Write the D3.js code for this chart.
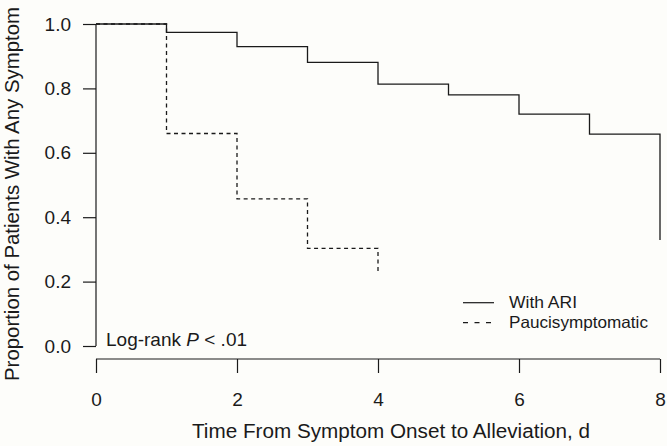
<!DOCTYPE html>
<html><head><meta charset="utf-8">
<script src="https://cdn.jsdelivr.net/npm/d3@7"></script>
<style>
html,body{margin:0;padding:0;background:#fdfdfa;}
text{font-family:"Liberation Sans",Arial,Helvetica,sans-serif;fill:#1a1a1a;}
</style></head>
<body><svg id="c" width="667" height="446"></svg>
<script>
const ariTimes = [0,1,2,3,4,5,6,7,8];
const ariSurv  = [1.0,0.974,0.930,0.881,0.813,0.780,0.720,0.658,0.329];
const paucTimes = [0,1,2,3,4];
const paucSurv  = [1.0,0.660,0.457,0.303,0.226];
const xTicks = [0,2,4,6,8];
const yTicks = [0,0.2,0.4,0.6,0.8,1.0];
const seriesNames = ["With ARI","Paucisymptomatic"];

const svg = d3.select("#c");
svg.append("rect").attr("width",667).attr("height",446).attr("fill","#fdfdfa");
const x = d3.scaleLinear().domain([0,8]).range([96,660]);
const y = d3.scaleLinear().domain([0,1]).range([346,24]);
const ink = "#1a1a1a";

// x axis
const gx = svg.append("g").attr("transform","translate(0,359)")
  .call(d3.axisBottom(x).tickValues(xTicks).tickFormat(d3.format("d")).tickSize(14).tickPadding(20).tickSizeOuter(0));
// y axis
const gy = svg.append("g").attr("transform","translate(96,0)")
  .call(d3.axisLeft(y).tickValues(yTicks).tickFormat(d3.format(".1f")).tickSize(13).tickPadding(12).tickSizeOuter(0));
[gx,gy].forEach(g=>{
  g.select(".domain").attr("stroke",ink).attr("stroke-width",1.2);
  g.selectAll(".tick line").attr("stroke",ink).attr("stroke-width",1.2);
  g.selectAll(".tick text").attr("font-size",19).attr("fill",ink)
   .style("font-family",'"Liberation Sans",Arial,sans-serif');
});
gx.select(".domain").attr("d","M96,0H660");
gy.select(".domain").attr("d","M0,24V346");

const line = d3.line().x(d=>x(d[0])).y(d=>y(d[1])).curve(d3.curveStepAfter);
svg.append("path").datum(ariTimes.map((t,i)=>[t,ariSurv[i]]))
  .attr("d",line).attr("fill","none").attr("stroke",ink).attr("stroke-width",1.3);
svg.append("path").datum(paucTimes.map((t,i)=>[t,paucSurv[i]]))
  .attr("d",line).attr("fill","none").attr("stroke",ink).attr("stroke-width",1.3)
  .attr("stroke-dasharray","4,3.5");

// legend
const lg = svg.append("g");
const legLen = [68,139];
seriesNames.forEach((n,i)=>{
  const yy = 302.7 + i*20;
  lg.append("line").attr("x1",463).attr("x2",494).attr("y1",yy).attr("y2",yy)
    .attr("stroke",ink).attr("stroke-width",1.2).attr("stroke-dasharray", i? "5,6.5":null);
  lg.append("text").attr("x",509).attr("y",yy+5.5).attr("font-size",16.5)
    .attr("textLength",legLen[i]).attr("lengthAdjust","spacingAndGlyphs").text(n);
});

// log-rank annotation
const lr = svg.append("text").attr("x",106).attr("y",345.5).attr("font-size",19);
lr.append("tspan").text("Log-rank ");
lr.append("tspan").attr("font-style","italic").text("P");
lr.append("tspan").text(" < .01");

// axis titles
svg.append("text").attr("x",192).attr("y",438).attr("font-size",19.5)
  .attr("textLength",398).attr("lengthAdjust","spacingAndGlyphs")
  .text("Time From Symptom Onset to Alleviation, d");
svg.append("text").attr("transform","translate(19,381) rotate(-90)").attr("font-size",19.5)
  .attr("textLength",374).attr("lengthAdjust","spacingAndGlyphs")
  .text("Proportion of Patients With Any Symptom");
</script></body></html>
